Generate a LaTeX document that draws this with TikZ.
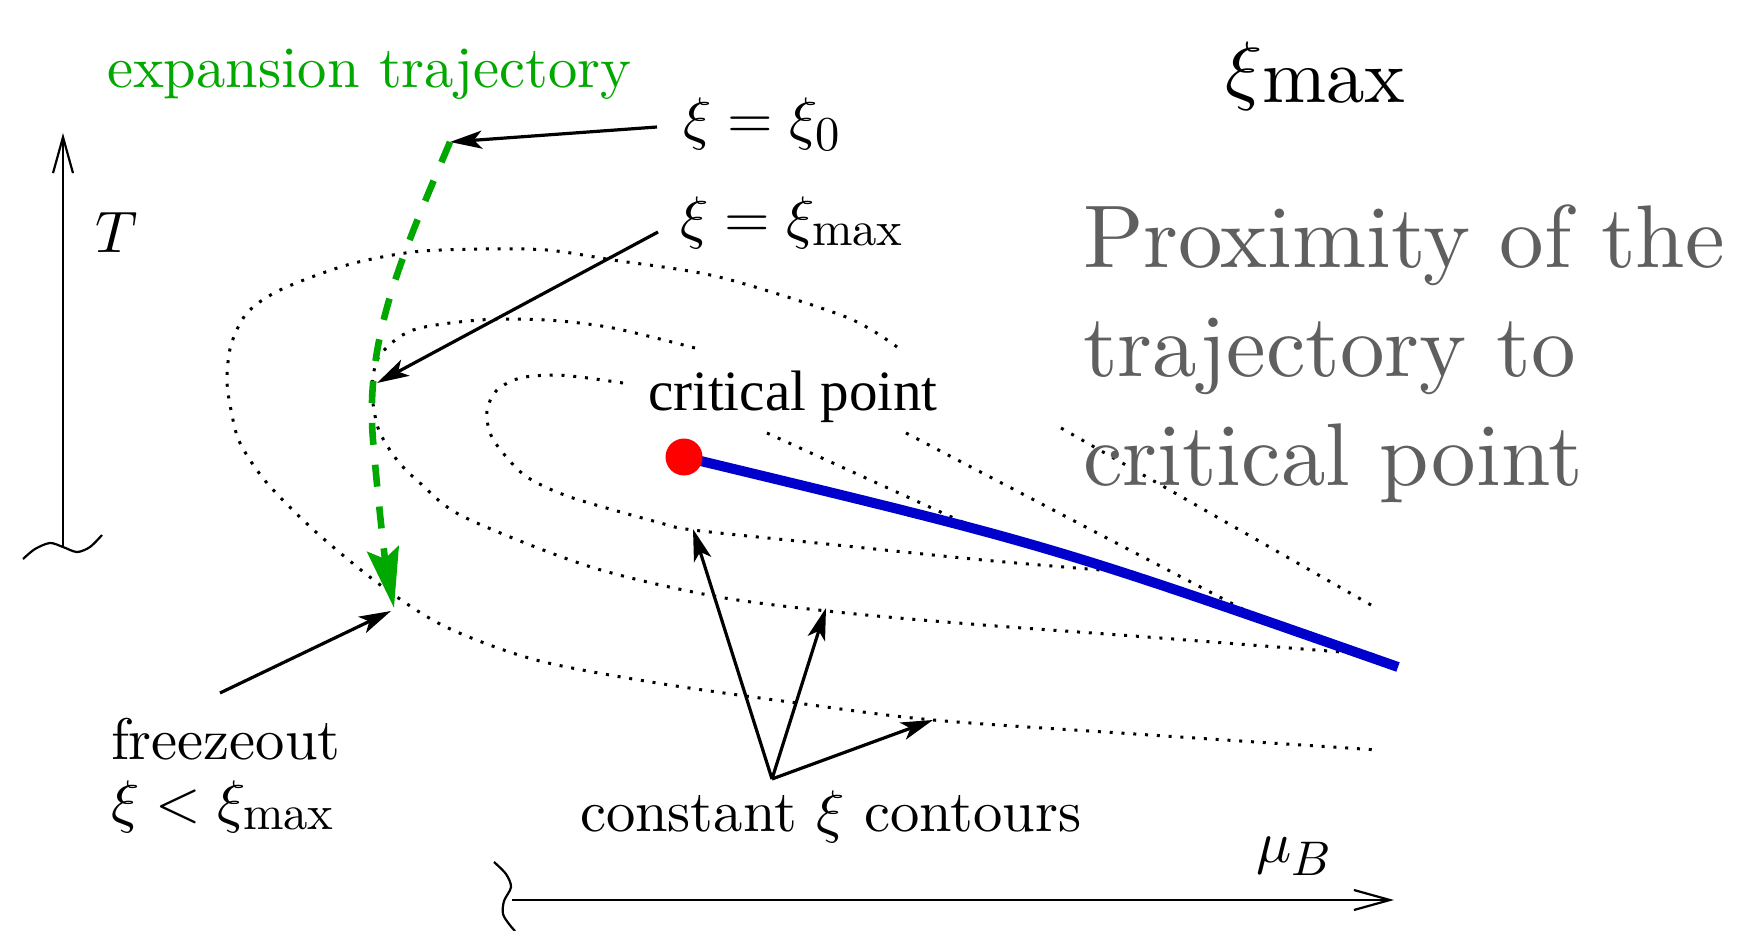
\RequirePackage{fix-cm}
\documentclass[tikz,border=0pt]{standalone}
\usepackage{fontspec}
\setmainfont{lmroman10-regular.otf}[ItalicFont=lmroman10-italic.otf, BoldFont=lmroman10-bold.otf]
\newfontfamily\timesf{Liberation Serif}
\DeclareFontShape{OML}{cmm}{m}{it}{<->cmmi10}{\skewchar\font'177}
\DeclareFontShape{OT1}{cmr}{m}{n}{<->cmr10}{}
\usetikzlibrary{arrows.meta}
\def\defaultscriptratio{.83}
\definecolor{trajgreen}{RGB}{0,168,0}
\definecolor{proxgray}{RGB}{95,95,95}
\definecolor{cpred}{RGB}{255,0,0}
\definecolor{cpblue}{RGB}{0,0,205}
\tikzset{
  lbl/.style={inner sep=0pt, outer sep=0pt, anchor=base west, font=\fontsize{29.3}{35}\selectfont},
  cplbl/.style={inner sep=0pt, outer sep=0pt, anchor=base west, font=\timesf\fontsize{28.5}{34}\selectfont},
  biglbl/.style={inner sep=0pt, outer sep=0pt, anchor=base west, font=\fontsize{38.5}{46}\selectfont},
  proxlbl/.style={inner sep=0pt, outer sep=0pt, anchor=base west, text=proxgray, font=\fontsize{44.5}{54}\selectfont},
  contour/.style={line width=1.5pt, dash pattern=on 1.5pt off 4.4pt},
  ptr/.style={line width=1.6pt, -{Stealth[length=16pt,width=9pt,inset=4pt]}},
  axisline/.style={line width=1.1pt, -{Straight Barb[length=18pt,width=10pt]}},
  wave/.style={line width=1.1pt},
  traj/.style={draw=trajgreen, line width=3.3pt, dash pattern=on 11pt off 10pt,
    -{Stealth[length=30pt,width=16pt,inset=5pt,fill=trajgreen]}},
  blueline/.style={draw=cpblue, line width=5pt},
}
\begin{document}
\begin{tikzpicture}[x=0.5pt,y=-0.5pt]
\useasboundingbox (0,0) rectangle (1742,931);
\fill[white] (0,0) rectangle (1742,931);

% constant xi contours (dotted)
\draw[contour] plot[smooth] coordinates {(897,347) (846,317) (719,277) (613,260) (547,250) (480,249) (413,252) (347,265) (280,290) (247,313) (231,345) (227,380) (231,410) (240,443) (267,483) (317,533) (383,587) (446,627) (536,660) (657,683) (797,703) (933,720) (1150,735) (1378,750)};
\draw[contour] (1061,428) -- (1378,609);
\draw[contour] plot[smooth] coordinates {(695,348) (613,328) (547,320) (480,320) (413,330) (380,355) (372,385) (374,410) (380,433) (397,460) (420,483) (464,517) (591,567) (719,597) (846,613) (983,625) (1147,637) (1380,655)};
\draw[contour] (906,433) -- (1252,614);
\draw[contour] plot[smooth] coordinates {(623,383) (580,377) (553,375) (520,378) (497,390) (487,410) (490,433) (503,453) (527,477) (570,497) (657,522) (693,530) (817,543) (983,560) (1101,570)};
\draw[contour] (767,433) -- (980,530);

% axes
\coordinate (Tbot) at (63,547);
\coordinate (Ttop) at (63,133);
\draw[axisline] (Tbot) -- (Ttop);
\draw[wave] plot[smooth] coordinates {(23,559) (35,549) (50,543) (63,547) (77,552) (90,547) (102,535)};
\coordinate (Mleft) at (512,900);
\coordinate (Mright) at (1394,900);
\draw[axisline] (Mleft) -- (Mright);
\draw[wave] plot[smooth] coordinates {(494,862) (506,874) (511,887) (504,901) (503,914) (509,924) (515,931)};

% expansion trajectory
\coordinate (trstart) at (450,142);
\coordinate (trend) at (394,608);
\draw[traj] (trstart) .. controls (400,260) and (365,340) .. (373,440) .. controls (378,500) and (385,560) .. (trend);

% crossover line and critical point
\coordinate (cpc) at (684,457);
\coordinate (lineend) at (1398,667);
\draw[blueline] (cpc) .. controls (1050,545) .. (lineend);
\node[circle, fill=cpred, minimum size=18.5pt, inner sep=0pt] (cp) at (cpc) {};

% pointer arrows
\coordinate (x0from) at (657,127);
\coordinate (xmfrom) at (658,232);
\coordinate (xmto) at (377,383);
\coordinate (fzfrom) at (220,693);
\coordinate (fzto) at (391,611);
\coordinate (ccfrom) at (772,779);
\coordinate (cc1) at (693,529);
\coordinate (cc2) at (826,608);
\coordinate (cc3) at (933,720);
\draw[ptr] (x0from) -- (trstart);
\draw[ptr] (xmfrom) -- (xmto);
\draw[ptr] (fzfrom) -- (fzto);
\draw[ptr] (ccfrom) -- (cc1);
\draw[ptr] (ccfrom) -- (cc2);
\draw[ptr] (ccfrom) -- (cc3);

% labels
\node[lbl, text=trajgreen] (explbl) at (107,88) {expansion trajectory};
\node[lbl] (x0lbl) at (683,139) {$\xi = \xi_0$};
\node[lbl] (xmlbl) at (680,237) {$\xi = \xi_{\mathrm{max}}$};
\node[lbl] (Tlbl) at (95,252) {$T$};
\node[lbl] (mulbl) at (1256,862) {$\mu_B$};
\node[lbl] (fzlbl) at (111,759) {freezeout};
\node[lbl] (fzlbl2) at (111,821) {$\xi < \xi_{\mathrm{max}}$};
\node[lbl] (cclbl) at (580,831) {constant $\xi$ contours};
\node[cplbl] (cplbl) at (648,410) {critical point};
\node[biglbl] (bigxi) at (1225,96) {$\xi$\raisebox{-3.5pt}{max}};
\node[proxlbl] (prox1) at (1083,267) {Proximity of the};
\node[proxlbl] (prox2) at (1083,376) {trajectory to};
\node[proxlbl] (prox3) at (1083,485) {critical point};
\end{tikzpicture}
\end{document}
